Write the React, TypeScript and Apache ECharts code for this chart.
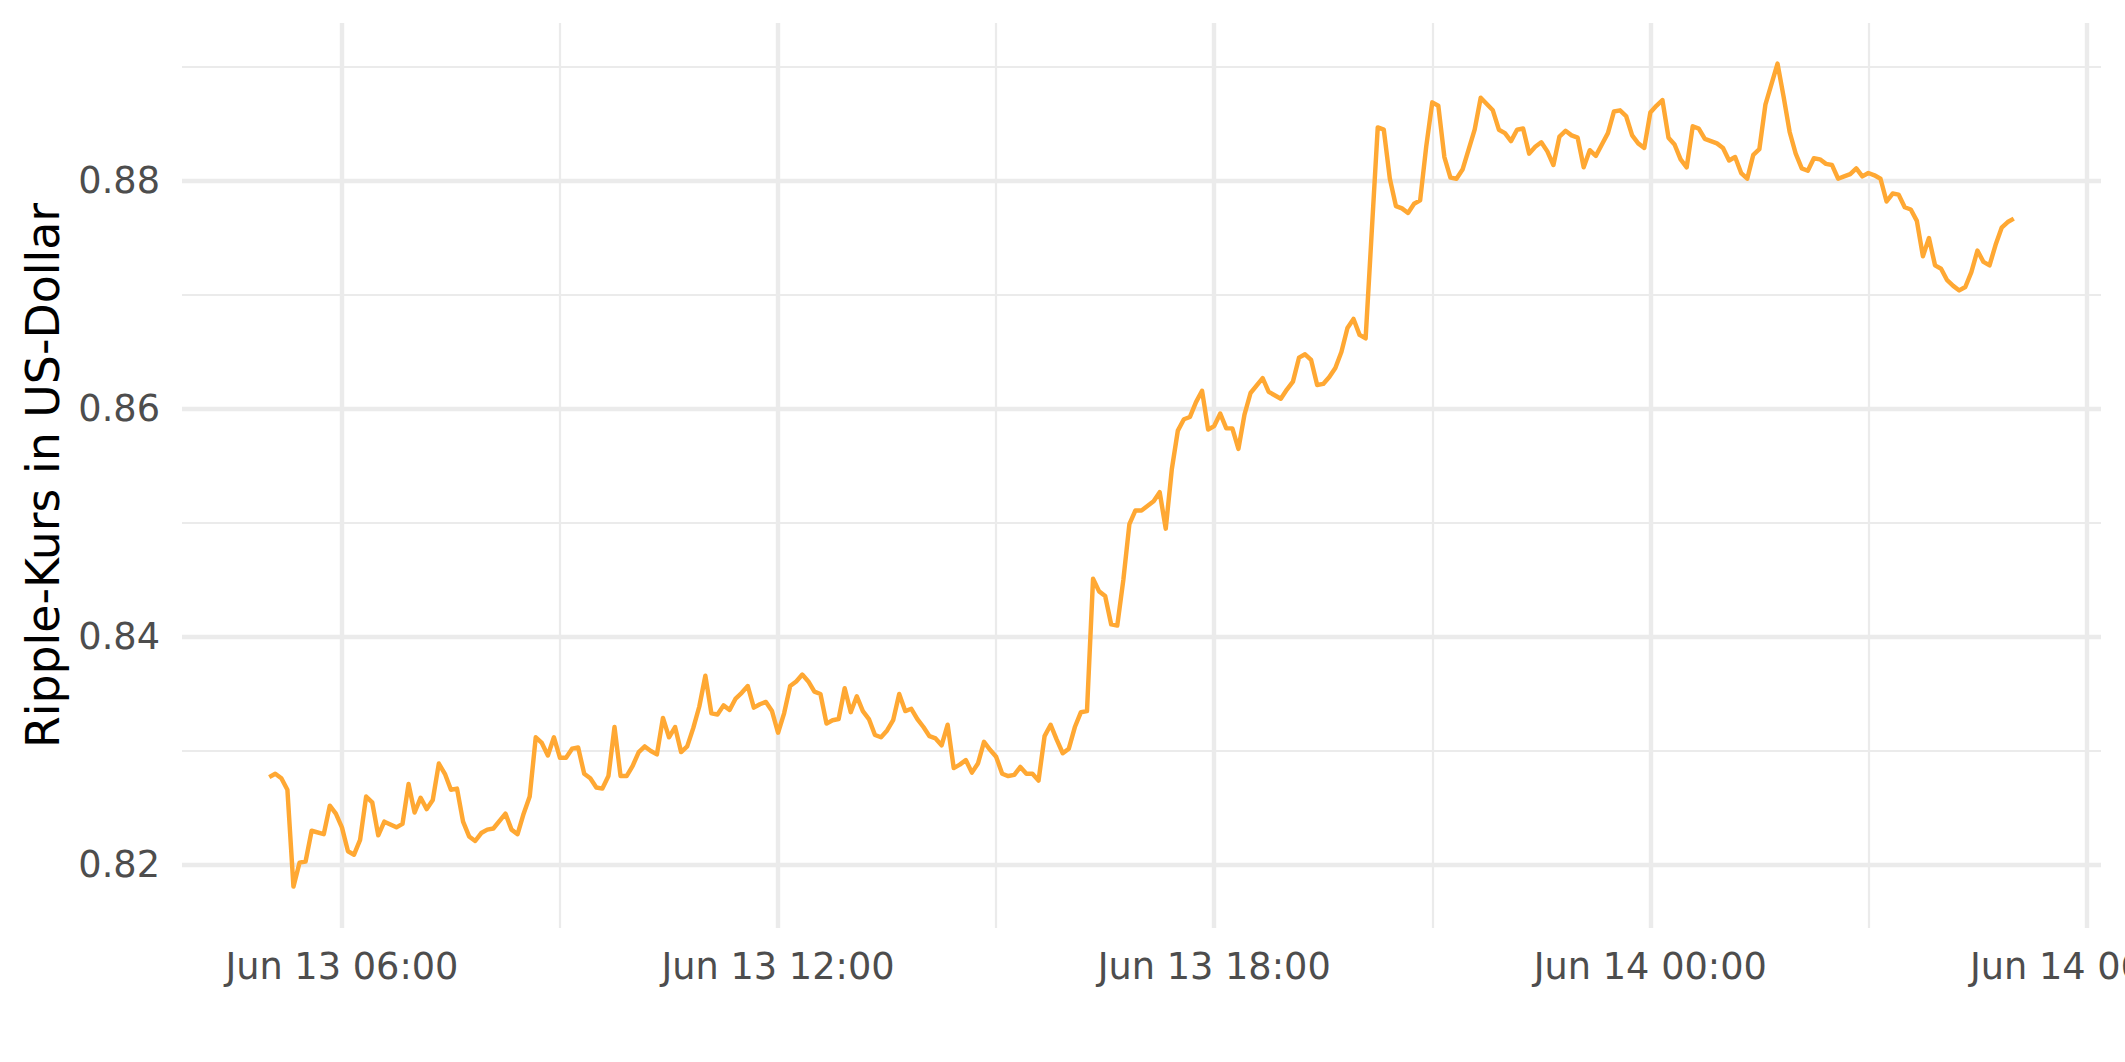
import React, { useEffect, useRef } from "react";
import * as echarts from "echarts";

// Timestamps (2021, local time) of the line's vertices, 5-minute data
const times: string[] = [
  "06-13 05:00","06-13 05:05","06-13 05:10","06-13 05:15","06-13 05:20","06-13 05:25","06-13 05:30","06-13 05:35","06-13 05:45","06-13 05:50","06-13 05:55",
  "06-13 06:00","06-13 06:05","06-13 06:10","06-13 06:15","06-13 06:20","06-13 06:25","06-13 06:30","06-13 06:35","06-13 06:45","06-13 06:50","06-13 06:55",
  "06-13 07:00","06-13 07:05","06-13 07:10","06-13 07:15","06-13 07:20","06-13 07:25","06-13 07:30","06-13 07:35","06-13 07:40","06-13 07:45","06-13 07:50","06-13 07:55",
  "06-13 08:00","06-13 08:05","06-13 08:15","06-13 08:20","06-13 08:25","06-13 08:30","06-13 08:35","06-13 08:40","06-13 08:45","06-13 08:50","06-13 08:55",
  "06-13 09:00","06-13 09:05","06-13 09:10","06-13 09:15","06-13 09:20","06-13 09:25","06-13 09:30","06-13 09:35","06-13 09:40","06-13 09:45","06-13 09:50","06-13 09:55",
  "06-13 10:00","06-13 10:05","06-13 10:10","06-13 10:15","06-13 10:20","06-13 10:25","06-13 10:30","06-13 10:35","06-13 10:40","06-13 10:45","06-13 10:50","06-13 10:55",
  "06-13 11:00","06-13 11:05","06-13 11:10","06-13 11:15","06-13 11:20","06-13 11:25","06-13 11:30","06-13 11:35","06-13 11:40","06-13 11:45","06-13 11:50","06-13 11:55",
  "06-13 12:00","06-13 12:05","06-13 12:10","06-13 12:15","06-13 12:20","06-13 12:25","06-13 12:30","06-13 12:35","06-13 12:40","06-13 12:45","06-13 12:50","06-13 12:55",
  "06-13 13:00","06-13 13:05","06-13 13:10","06-13 13:15","06-13 13:20","06-13 13:25","06-13 13:30","06-13 13:35","06-13 13:40","06-13 13:45","06-13 13:50","06-13 13:55",
  "06-13 14:00","06-13 14:05","06-13 14:10","06-13 14:15","06-13 14:20","06-13 14:25","06-13 14:30","06-13 14:35","06-13 14:40","06-13 14:45","06-13 14:50","06-13 14:55",
  "06-13 15:00","06-13 15:05","06-13 15:10","06-13 15:15","06-13 15:20","06-13 15:25","06-13 15:30","06-13 15:35","06-13 15:40","06-13 15:45","06-13 15:50","06-13 15:55",
  "06-13 16:00","06-13 16:05","06-13 16:10","06-13 16:15","06-13 16:20","06-13 16:25","06-13 16:30","06-13 16:35","06-13 16:40","06-13 16:45","06-13 16:50","06-13 16:55",
  "06-13 17:00","06-13 17:10","06-13 17:15","06-13 17:20","06-13 17:25","06-13 17:30","06-13 17:35","06-13 17:40","06-13 17:45","06-13 17:50","06-13 17:55",
  "06-13 18:00","06-13 18:05","06-13 18:10","06-13 18:15","06-13 18:20","06-13 18:25","06-13 18:30","06-13 18:40","06-13 18:45","06-13 18:55",
  "06-13 19:00","06-13 19:05","06-13 19:10","06-13 19:15","06-13 19:20","06-13 19:25","06-13 19:30","06-13 19:35","06-13 19:40","06-13 19:45","06-13 19:50","06-13 19:55",
  "06-13 20:00","06-13 20:05","06-13 20:15","06-13 20:20","06-13 20:25","06-13 20:30","06-13 20:35","06-13 20:40","06-13 20:45","06-13 20:50","06-13 20:55",
  "06-13 21:00","06-13 21:05","06-13 21:10","06-13 21:15","06-13 21:20","06-13 21:25","06-13 21:35","06-13 21:40","06-13 21:50","06-13 21:55",
  "06-13 22:00","06-13 22:05","06-13 22:10","06-13 22:15","06-13 22:20","06-13 22:25","06-13 22:30","06-13 22:35","06-13 22:40","06-13 22:45","06-13 22:50","06-13 22:55",
  "06-13 23:00","06-13 23:05","06-13 23:10","06-13 23:15","06-13 23:20","06-13 23:25","06-13 23:30","06-13 23:35","06-13 23:40","06-13 23:45","06-13 23:50","06-13 23:55",
  "06-14 00:00","06-14 00:05","06-14 00:10","06-14 00:15","06-14 00:20","06-14 00:25","06-14 00:30","06-14 00:35","06-14 00:40","06-14 00:45","06-14 00:50","06-14 00:55",
  "06-14 01:00","06-14 01:05","06-14 01:10","06-14 01:15","06-14 01:20","06-14 01:25","06-14 01:30","06-14 01:35","06-14 01:45","06-14 01:50","06-14 01:55",
  "06-14 02:00","06-14 02:05","06-14 02:10","06-14 02:15","06-14 02:20","06-14 02:25","06-14 02:30","06-14 02:35","06-14 02:40","06-14 02:45","06-14 02:50","06-14 02:55",
  "06-14 03:00","06-14 03:05","06-14 03:10","06-14 03:15","06-14 03:20","06-14 03:25","06-14 03:30","06-14 03:35","06-14 03:40","06-14 03:45","06-14 03:50","06-14 03:55",
  "06-14 04:00","06-14 04:05","06-14 04:10","06-14 04:15","06-14 04:20","06-14 04:25","06-14 04:30","06-14 04:35","06-14 04:40","06-14 04:45","06-14 04:50","06-14 04:55",
  "06-14 05:00",
];

// Ripple price in USD at those timestamps
const prices: number[] = [
  0.8277,0.8280,0.8276,0.8266,0.8181,0.8202,0.8203,0.8230,0.8227,0.8252,0.8245,
  0.8233,0.8212,0.8209,0.8222,0.8260,0.8255,0.8226,0.8238,0.8233,0.8236,0.8271,
  0.8246,0.8259,0.8249,0.8257,0.8289,0.8280,0.8266,0.8267,0.8238,0.8225,0.8221,0.8228,
  0.8231,0.8232,0.8245,0.8231,0.8227,0.8245,0.8260,0.8312,0.8307,0.8296,0.8312,
  0.8294,0.8294,0.8302,0.8303,0.8280,0.8276,0.8268,0.8267,0.8278,0.8321,0.8278,0.8278,
  0.8287,0.8299,0.8304,0.8300,0.8297,0.8329,0.8312,0.8321,0.8299,0.8304,0.8320,0.8339,
  0.8366,0.8333,0.8332,0.8340,0.8336,0.8346,0.8351,0.8357,0.8338,0.8341,0.8343,0.8335,
  0.8316,0.8333,0.8357,0.8361,0.8367,0.8361,0.8352,0.8350,0.8324,0.8327,0.8328,0.8355,
  0.8334,0.8348,0.8335,0.8328,0.8314,0.8312,0.8318,0.8327,0.8350,0.8335,0.8337,0.8328,
  0.8321,0.8313,0.8311,0.8305,0.8323,0.8285,0.8288,0.8292,0.8281,0.8289,0.8308,0.8301,
  0.8295,0.8280,0.8278,0.8279,0.8286,0.8280,0.8280,0.8274,0.8313,0.8323,0.8310,0.8298,
  0.8302,0.8321,0.8334,0.8335,0.8451,0.8440,0.8436,0.8411,0.8410,0.8450,0.8499,0.8511,
  0.8511,0.8519,0.8527,0.8495,0.8547,0.8581,0.8591,0.8593,0.8606,0.8616,0.8582,
  0.8585,0.8596,0.8583,0.8583,0.8565,0.8595,0.8614,0.8627,0.8615,0.8609,
  0.8617,0.8624,0.8645,0.8648,0.8643,0.8621,0.8622,0.8628,0.8636,0.8650,0.8671,0.8679,
  0.8665,0.8662,0.8847,0.8845,0.8802,0.8778,0.8776,0.8772,0.8780,0.8783,0.8830,
  0.8869,0.8866,0.8821,0.8803,0.8802,0.8810,0.8845,0.8873,0.8862,0.8845,
  0.8842,0.8835,0.8845,0.8846,0.8824,0.8830,0.8834,0.8826,0.8814,0.8839,0.8844,0.8840,
  0.8838,0.8812,0.8827,0.8822,0.8832,0.8842,0.8861,0.8862,0.8857,0.8840,0.8833,0.8829,
  0.8860,0.8866,0.8871,0.8838,0.8832,0.8819,0.8812,0.8848,0.8846,0.8837,0.8835,0.8833,
  0.8829,0.8818,0.8821,0.8807,0.8802,0.8823,0.8828,0.8867,0.8903,0.8874,0.8843,
  0.8824,0.8811,0.8809,0.8820,0.8819,0.8815,0.8814,0.8802,0.8804,0.8806,0.8811,0.8804,
  0.8807,0.8805,0.8802,0.8782,0.8789,0.8788,0.8777,0.8775,0.8765,0.8734,0.8750,0.8726,
  0.8723,0.8713,0.8708,0.8704,0.8707,0.8720,0.8739,0.8729,0.8726,0.8744,0.8759,0.8764,
  0.8767,
];

const xMajorTicks: string[] = ["06-13 06:00", "06-13 12:00", "06-13 18:00", "06-14 00:00", "06-14 06:00"];
const xMinorTicks: string[] = ["06-13 09:00", "06-13 15:00", "06-13 21:00", "06-14 03:00"];
const xRange: string[] = ["06-13 03:48", "06-14 06:12"];
const yMajorTicks: number[] = [0.82, 0.84, 0.86, 0.88];
const yMinorTicks: number[] = [0.83, 0.85, 0.87, 0.89];
const yRange: number[] = [0.81447, 0.89386];
const monthNames: string[] = ["Jan", "Feb", "Mar", "Apr", "May", "Jun", "Jul", "Aug", "Sep", "Oct", "Nov", "Dec"];
const yTitle = "Ripple-Kurs in US-Dollar";

function toMs(s: string): number {
  const [md, hm] = s.split(" ");
  const [mo, d] = md.split("-").map(Number);
  const [h, m] = hm.split(":").map(Number);
  return new Date(2021, mo - 1, d, h, m).getTime();
}

function pad(n: number): string {
  return n < 10 ? "0" + n : String(n);
}

function formatTime(v: number): string {
  const d = new Date(v);
  return `${monthNames[d.getMonth()]} ${d.getDate()} ${pad(d.getHours())}:${pad(d.getMinutes())}`;
}

const FONT = "DejaVu Sans";
const GRID_COLOR = "#EBEBEB";

export default function App() {
  const ref = useRef<HTMLDivElement>(null);

  useEffect(() => {
    if (!ref.current) return;
    const chart = echarts.init(ref.current, undefined, { renderer: "svg" });
    const xMin = toMs(xRange[0]);
    const xMax = toMs(xRange[1]);
    const xMajor = xMajorTicks.map(toMs);
    const xMinor = xMinorTicks.map(toMs);

    chart.setOption({
      animation: false,
      backgroundColor: "#ffffff",
      grid: { left: 182, right: 24, top: 23, bottom: 134, containLabel: false, outerBoundsMode: "none" },
      xAxis: [
        {
          type: "value",
          min: xMin,
          max: xMax,
          position: "bottom",
          axisLine: { show: false },
          axisTick: { show: false, customValues: xMajor },
          axisLabel: {
            customValues: xMajor,
            formatter: (v: number) => formatTime(v),
            color: "#4D4D4D",
            fontSize: 36.7,
            fontFamily: FONT,
            margin: 20,
          },
          splitLine: { show: true, lineStyle: { color: GRID_COLOR, width: 4.45 } },
        },
        {
          type: "value",
          min: xMin,
          max: xMax,
          position: "bottom",
          axisLine: { show: false },
          axisTick: { show: false, customValues: xMinor },
          axisLabel: { show: false, customValues: xMinor },
          splitLine: { show: true, lineStyle: { color: GRID_COLOR, width: 2.2 } },
        },
      ],
      yAxis: [
        {
          type: "value",
          min: yRange[0],
          max: yRange[1],
          axisLine: { show: false },
          axisTick: { show: false, customValues: yMajorTicks },
          axisLabel: {
            customValues: yMajorTicks,
            formatter: (v: number) => v.toFixed(2),
            color: "#4D4D4D",
            fontSize: 36.7,
            fontFamily: FONT,
            margin: 22,
          },
          splitLine: { show: true, lineStyle: { color: GRID_COLOR, width: 4.45 } },
        },
        {
          type: "value",
          min: yRange[0],
          max: yRange[1],
          position: "left",
          axisLine: { show: false },
          axisTick: { show: false, customValues: yMinorTicks },
          axisLabel: { show: false, customValues: yMinorTicks },
          splitLine: { show: true, lineStyle: { color: GRID_COLOR, width: 2.2 } },
        },
      ],
      graphic: [
        {
          type: "text",
          x: 43,
          y: 475.5,
          rotation: Math.PI / 2,
          style: {
            text: yTitle,
            fill: "#000000",
            font: `45.8px "${FONT}"`,
            align: "center",
            verticalAlign: "middle",
          },
        },
      ],
      series: [
        {
          type: "line",
          xAxisIndex: 0,
          yAxisIndex: 0,
          data: times.map((t, i) => [toMs(t), prices[i]]),
          showSymbol: false,
          symbol: "none",
          lineStyle: { color: "#FFA833", width: 4.45, join: "round" },
          z: 3,
        },
      ],
    });

    return () => {
      chart.dispose();
    };
  }, []);

  return (
    <div
      ref={ref}
      style={{ position: "fixed", left: 0, top: 0, width: 2125, height: 1062, background: "#ffffff" }}
    />
  );
}
